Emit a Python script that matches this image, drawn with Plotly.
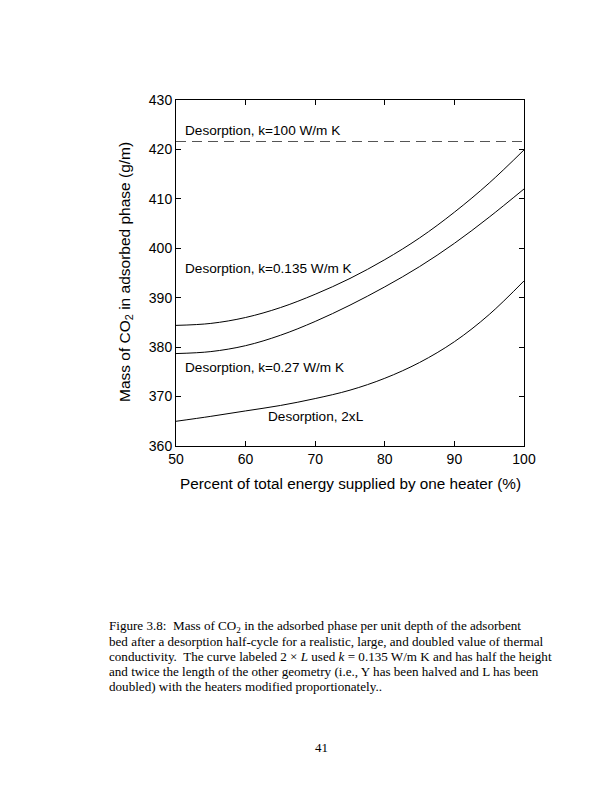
import plotly.graph_objects as go

# ---- data ----
pct = [50, 55, 60, 65, 70, 75, 80, 85, 90, 95, 100]
k0135 = [384.4, 384.8, 386.0, 388.0, 390.7, 393.9, 397.7, 402.1, 407.3, 413.2, 419.9]
k027 = [378.7, 379.1, 380.3, 382.4, 385.2, 388.5, 392.2, 396.3, 401.0, 406.3, 412.0]
twoL = [365.0, 366.0, 367.1, 368.2, 369.6, 371.3, 373.7, 376.9, 381.1, 386.6, 393.4]
k100_x = [50, 100]
k100 = [421.6, 421.6]

x_ticks = [50, 60, 70, 80, 90, 100]
y_ticks = [360, 370, 380, 390, 400, 410, 420, 430]

labels = [
    ("Desorption, k=100 W/m K", 51.0, 423.8),
    ("Desorption, k=0.135 W/m K", 51.0, 395.9),
    ("Desorption, k=0.27 W/m K", 51.0, 375.9),
    ("Desorption, 2xL", 63.0, 365.9),
]

caption_lines = [
    "Figure 3.8:  Mass of CO<sub>2</sub> in the adsorbed phase per unit depth of the adsorbent",
    "bed after a desorption half-cycle for a realistic, large, and doubled value of thermal",
    "conductivity.  The curve labeled 2 × <i>L</i> used <i>k</i> = 0.135 W/m K and has half the height",
    "and twice the length of the other geometry (i.e., Y has been halved and L has been",
    "doubled) with the heaters modified proportionately..",
]

# page has an 8px body margin: figure coordinates = page coordinates - 8
OFF = 8
W, H = 612 - 2 * OFF, 792 - 2 * OFF
L, R, T, B = 176 - OFF, 524 - OFF, 100 - OFF, 446 - OFF

def px(x):
    return (x - OFF - L) / (R - L)

def py(y):
    return (B - (y - OFF)) / (B - T)

fig = go.Figure()
for ys in (k0135, k027, twoL):
    fig.add_trace(go.Scatter(x=pct, y=ys, mode="lines",
                             line=dict(shape="spline", smoothing=1.0, color="black", width=1),
                             showlegend=False, hoverinfo="skip"))
fig.add_trace(go.Scatter(x=k100_x, y=k100, mode="lines",
                         line=dict(color="#555555", width=1.2, dash="10px,6px"),
                         showlegend=False, hoverinfo="skip"))

font = "Liberation Sans, Arial, sans-serif"
for text, x, y in labels:
    fig.add_annotation(x=x, y=y, text=text, showarrow=False, xanchor="left", yanchor="middle",
                       font=dict(family=font, size=13.6, color="black"))

# axis titles
fig.add_annotation(xref="paper", yref="paper", x=px(350), y=py(484),
                   text="Percent of total energy supplied by one heater (%)",
                   showarrow=False, xanchor="center", yanchor="middle",
                   font=dict(family=font, size=15.3, color="black"))
fig.add_annotation(xref="paper", yref="paper", x=px(125), y=py(272),
                   text="Mass of CO<sub>2</sub> in adsorbed phase (g/m)",
                   textangle=-90, showarrow=False, xanchor="center", yanchor="middle",
                   font=dict(family=font, size=15.5, color="black"))

serif = "Liberation Serif, Times New Roman, serif"
cap_y = [626.7, 641.7, 656.7, 671.7, 686.4]
for text, yy in zip(caption_lines, cap_y):
    fig.add_annotation(xref="paper", yref="paper", x=px(107), y=py(yy), text=text, showarrow=False,
                       xanchor="left", yanchor="middle", font=dict(family=serif, size=13.1, color="black"))
fig.add_annotation(xref="paper", yref="paper", x=px(321), y=py(747), text="41", showarrow=False,
                   xanchor="center", yanchor="middle", font=dict(family=serif, size=13, color="black"))

axis_common = dict(showgrid=False, zeroline=False, showline=True, linecolor="black", linewidth=1,
                   mirror="allticks", ticks="inside", ticklen=5, tickwidth=1, tickcolor="black",
                   tickfont=dict(family=font, size=14, color="black"))
fig.update_xaxes(range=[50, 100], tickvals=x_ticks, **axis_common)
fig.update_yaxes(range=[360, 430], tickvals=y_ticks, **axis_common)

fig.update_layout(width=W, height=H, margin=dict(l=L, r=W - R, t=T, b=H - B),
                  paper_bgcolor="white", plot_bgcolor="white", showlegend=False)
fig.write_html("out.html")
